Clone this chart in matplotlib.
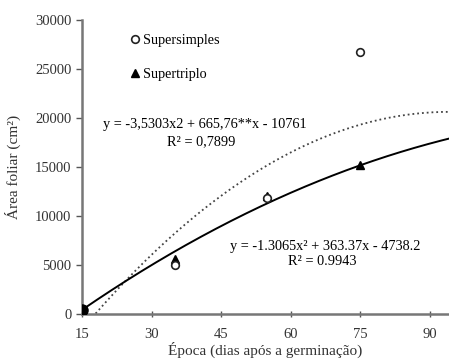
import numpy as np
import matplotlib
matplotlib.use('Agg')
import matplotlib.pyplot as plt

plt.rcParams['font.family'] = ['Liberation Serif', 'DejaVu Serif']

# dias apos germinacao
epoca = [15, 35, 55, 75]
supersimples = [200, 5000, 11800, 26700]
supertriplo = [450, 5600, 12000, 15200]

# coeficientes das regressoes (a, b, c) -> a*x^2 + b*x + c
coef_simples = [-3.5303, 665.76, -10761]
coef_triplo = [-1.3065, 363.37, -4738.2]

eq_simples = ['y = -3,5303x2 + 665,76**x - 10761', 'R\u00b2 = 0,7899']
eq_triplo = ['y = -1.3065x\u00b2 + 363.37x - 4738.2', 'R\u00b2 = 0.9943']

xticks = [15, 30, 45, 60, 75, 90]
yticks = [0, 5000, 10000, 15000, 20000, 25000, 30000]

fig = plt.figure(figsize=(4.49, 3.63), dpi=100)
ax = fig.add_axes([82/449, 49/363, 1 - 82/449, 294/363])

xx = np.linspace(15, 95, 300)
ys = np.polyval(coef_simples, xx)
yt = np.polyval(coef_triplo, xx)
m = ys >= 0
ax.plot(xx[m], ys[m], ':', color='#444444', lw=1.3, zorder=2)
ax.plot(xx, yt, '-', color='black', lw=1.4, zorder=2)

ax.plot(epoca, supersimples, 'o', mfc='white', mec='#222222', mew=1.2, ms=5.5,
        ls='none', label='Supersimples', zorder=4)
ax.plot(epoca, supertriplo, '^', color='black', ms=6, ls='none',
        label='Supertriplo', zorder=3)
ax.plot(epoca[:1], supertriplo[:1], 'o', color='black', ms=8, zorder=5)

leg = ax.legend(loc='upper left', bbox_to_anchor=(0.09, 0.995), frameon=False,
                labelspacing=1.45, handletextpad=0.05, handlelength=1.0,
                fontsize=10.3)

fs = 10.3
ax.text(0.335, 0.643, eq_simples[0], transform=ax.transAxes, fontsize=fs, ha='center', va='center')
ax.text(0.325, 0.585, eq_simples[1], transform=ax.transAxes, fontsize=fs, ha='center', va='center')
ax.text(0.662, 0.228, eq_triplo[0], transform=ax.transAxes, fontsize=fs, ha='center', va='center')
ax.text(0.654, 0.18, eq_triplo[1], transform=ax.transAxes, fontsize=fs, ha='center', va='center')

ax.set_xlim(15, 15 + 367 / 69.5 * 15)
ax.set_ylim(0, 30000)
ax.set_xticks(xticks)
ax.set_yticks(yticks)
ax.tick_params(labelsize=10.5, colors='#333333', length=4, width=1, color='#555555')
ax.tick_params(axis='x', direction='inout', length=4, pad=8)

for s in ['top', 'right']:
    ax.spines[s].set_visible(False)
for s in ['left', 'bottom']:
    ax.spines[s].set_color('#777777')
    ax.spines[s].set_linewidth(1.8)

ax.set_xlabel('\u00c9poca (dias ap\u00f3s a germina\u00e7\u00e3o)', fontsize=11, color='#333333', labelpad=1)
ax.set_ylabel('\u00c1rea foliar (cm\u00b2)', fontsize=11, color='#333333', labelpad=10)

fig.savefig('out.png', dpi=100)
